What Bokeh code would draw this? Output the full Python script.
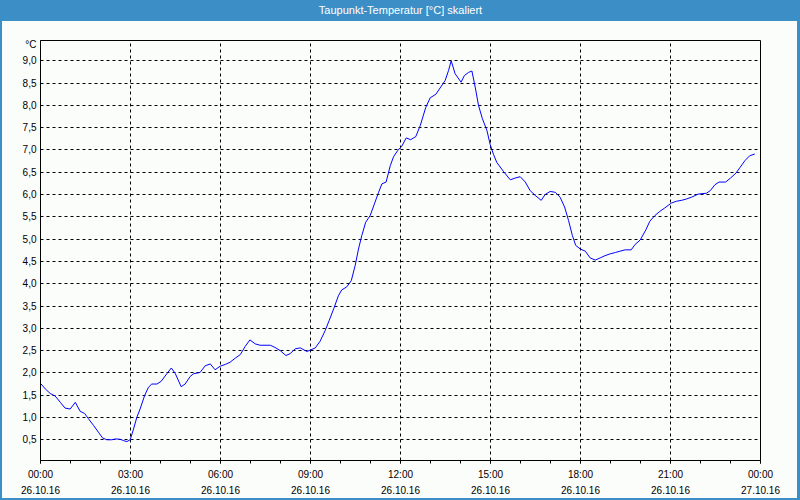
from bokeh.plotting import figure
from bokeh.models import Range1d, FixedTicker, LinearAxis, Grid
from bokeh.embed import file_html
from bokeh.resources import INLINE

# ---- data (hours since 26.10.16 00:00, dew point in °C) ----
hours = [0.02, 0.16, 0.32, 0.49, 0.66, 0.82, 0.99, 1.16, 1.32, 1.47, 1.60, 1.77, 1.93,
         2.07, 2.21, 2.38, 2.51, 2.66, 2.77, 2.88, 2.99, 3.10, 3.21, 3.32, 3.47, 3.60,
         3.71, 3.88, 4.02, 4.21, 4.36, 4.49, 4.69, 4.82, 4.99, 5.10, 5.32, 5.49, 5.66,
         5.82, 5.99, 6.16, 6.32, 6.49, 6.66, 6.82, 6.98, 7.16, 7.32, 7.66, 7.82, 7.99,
         8.18, 8.32, 8.49, 8.66, 8.88, 9.02, 9.16, 9.32, 9.49, 9.62, 9.78, 9.93, 10.04,
         10.21, 10.36, 10.49, 10.60, 10.71, 10.84, 10.99, 11.13, 11.27, 11.38, 11.52,
         11.66, 11.77, 11.91, 12.04, 12.19, 12.34, 12.51, 12.66, 12.84, 12.99, 13.18,
         13.32, 13.49, 13.60, 13.69, 13.82, 14.02, 14.13, 14.27, 14.38, 14.49, 14.60,
         14.73, 14.88, 14.99, 15.10, 15.21, 15.43, 15.66, 15.82, 15.99, 16.16, 16.32,
         16.49, 16.69, 16.82, 16.99, 17.16, 17.32, 17.47, 17.60, 17.73, 17.84, 17.99,
         18.16, 18.32, 18.49, 18.66, 18.82, 18.99, 19.16, 19.32, 19.49, 19.69, 19.82,
         19.99, 20.18, 20.31, 20.48, 20.64, 20.81, 21.03, 21.20, 21.37, 21.53, 21.70,
         21.92, 22.20, 22.33, 22.48, 22.62, 22.84, 23.00, 23.18, 23.31, 23.48, 23.64,
         23.81]
dewpoint = [1.75, 1.64, 1.54, 1.48, 1.34, 1.21, 1.19, 1.34, 1.14, 1.09, 0.97, 0.82, 0.67,
            0.54, 0.50, 0.50, 0.52, 0.51, 0.48, 0.46, 0.50, 0.74, 1.00, 1.19, 1.49, 1.68,
            1.75, 1.75, 1.81, 1.98, 2.11, 1.99, 1.69, 1.75, 1.92, 1.98, 2.01, 2.16, 2.20,
            2.07, 2.15, 2.19, 2.24, 2.33, 2.41, 2.59, 2.74, 2.65, 2.62, 2.62, 2.57, 2.50,
            2.39, 2.43, 2.54, 2.56, 2.48, 2.52, 2.56, 2.71, 2.95, 3.17, 3.45, 3.73, 3.86,
            3.93, 4.07, 4.41, 4.78, 5.08, 5.38, 5.53, 5.79, 6.05, 6.24, 6.28,
            6.65, 6.85, 6.99, 7.08, 7.27, 7.23, 7.30, 7.55, 7.95, 8.17, 8.25,
            8.39, 8.56, 8.78, 9.00, 8.71, 8.52, 8.67, 8.74, 8.77, 8.41, 8.00,
            7.70, 7.44, 7.12, 6.90, 6.72, 6.52, 6.33, 6.37, 6.40, 6.28, 6.09,
            5.98, 5.87, 6.00, 6.07, 6.05, 5.94, 5.72, 5.42, 5.08, 4.86, 4.78,
            4.73, 4.58, 4.53, 4.58, 4.63, 4.67, 4.70, 4.73, 4.76, 4.76, 4.88,
            4.98, 5.21, 5.40, 5.53, 5.62, 5.70, 5.81, 5.85, 5.87, 5.90, 5.94,
            6.01, 6.03, 6.09, 6.22, 6.28, 6.28, 6.37, 6.48, 6.60, 6.76, 6.87,
            6.91]

x_tick_hours = [0, 3, 6, 9, 12, 15, 18, 21, 24]
x_minor_hours = list(range(0, 25))
x_time_labels = ["00:00", "03:00", "06:00", "09:00", "12:00", "15:00", "18:00", "21:00", "00:00"]
x_date_labels = ["26.10.16"] * 8 + ["27.10.16"]
y_ticks = [0.5, 1.0, 1.5, 2.0, 2.5, 3.0, 3.5, 4.0, 4.5, 5.0, 5.5, 6.0, 6.5, 7.0, 7.5, 8.0, 8.5, 9.0]
y_tick_labels = ["0,5", "1,0", "1,5", "2,0", "2,5", "3,0", "3,5", "4,0", "4,5", "5,0", "5,5",
                 "6,0", "6,5", "7,0", "7,5", "8,0", "8,5", "9,0"]
title_text = "Taupunkt-Temperatur [°C] skaliert"
unit_text = "°C"

# ---- style ----
BG = "#fbfdfb"
BLUE = "#3c8fc6"
FONT = "Liberation Sans"
FS = "10px"
Y_START, Y_END = 0.035, 9.455

p = figure(width=800, height=500, output_backend="svg", toolbar_location=None,
           x_range=Range1d(0, 24), y_range=Range1d(Y_START, Y_END),
           x_axis_type=None, y_axis_type=None,
           min_border_left=40, min_border_right=40, min_border_top=40, min_border_bottom=40)
p.background_fill_color = BG
p.border_fill_alpha = 0.0
p.styles = {
    "background": f"linear-gradient({BG}, {BG}) 2px 21px / 795px 477px no-repeat, {BLUE}",
}
p.outline_line_color = "black"
p.outline_line_width = 1

# title text sits in the blue bar above the frame
title_axis = LinearAxis(ticker=FixedTicker(ticks=[]),
                        axis_line_color=None, major_tick_line_color=None,
                        minor_tick_line_color=None, major_tick_in=0, major_tick_out=0,
                        minor_tick_in=0, minor_tick_out=0, major_label_standoff=0,
                        axis_label=title_text, axis_label_standoff=25,
                        axis_label_text_color="white", axis_label_text_font=FONT,
                        axis_label_text_font_size="11px", axis_label_text_font_style="normal")
p.add_layout(title_axis, "above")

x_major = FixedTicker(ticks=x_tick_hours, minor_ticks=x_minor_hours)
y_major = FixedTicker(ticks=y_ticks)

ax_time = LinearAxis(ticker=x_major,
                     major_label_overrides={h: t for h, t in zip(x_tick_hours, x_time_labels)},
                     axis_line_color="black", major_tick_line_color="black",
                     minor_tick_line_color="black",
                     major_tick_in=0, major_tick_out=3, minor_tick_in=0, minor_tick_out=3,
                     major_label_standoff=5,
                     major_label_text_font=FONT, major_label_text_font_size=FS,
                     major_label_text_color="black")
ax_date = LinearAxis(ticker=FixedTicker(ticks=x_tick_hours),
                     major_label_overrides={h: d for h, d in zip(x_tick_hours, x_date_labels)},
                     axis_line_color=None, major_tick_line_color=None,
                     minor_tick_line_color=None,
                     major_tick_in=0, major_tick_out=0, minor_tick_in=0, minor_tick_out=0,
                     major_label_standoff=3,
                     major_label_text_font=FONT, major_label_text_font_size=FS,
                     major_label_text_color="black")
p.add_layout(ax_time, "below")
p.add_layout(ax_date, "below")

# y axis: value labels plus the unit label just below the top edge of the frame
unit_pos = Y_END - 0.1
y_axis_ticks = y_ticks + [unit_pos]
y_axis_labels = dict(zip(y_ticks, y_tick_labels))
y_axis_labels[unit_pos] = unit_text
ax_y = LinearAxis(ticker=FixedTicker(ticks=y_axis_ticks),
                  major_label_overrides=y_axis_labels,
                  axis_line_color="black", major_tick_line_color=None,
                  minor_tick_line_color=None, major_tick_in=0, major_tick_out=0,
                  major_label_standoff=4,
                  major_label_text_font=FONT, major_label_text_font_size=FS,
                  major_label_text_color="black")
p.add_layout(ax_y, "left")

p.add_layout(Grid(dimension=0, ticker=FixedTicker(ticks=x_tick_hours),
                  grid_line_color="black", grid_line_dash="3 3", grid_line_width=1))
p.add_layout(Grid(dimension=1, ticker=y_major,
                  grid_line_color="black", grid_line_dash="3 3", grid_line_width=1))

p.line(hours, dewpoint, line_color="#0000ff", line_width=1)

open("out.html", "w").write(file_html(p, INLINE))
